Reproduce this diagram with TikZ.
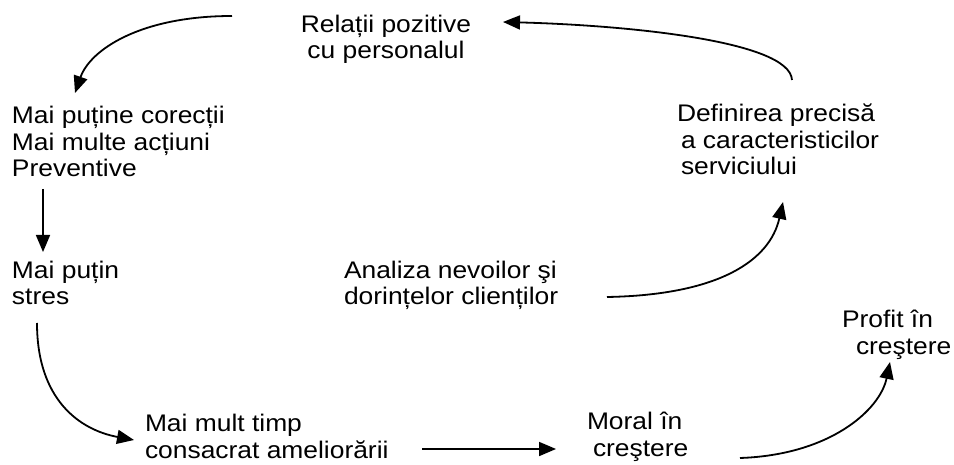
\documentclass[tikz,border=0pt]{standalone}
\usepackage{fontspec}
\setmainfont{Liberation Sans}[FakeStretch=1.1]
\usetikzlibrary{arrows.meta}
\begin{document}
\begin{tikzpicture}[x=1pt,y=-1pt,
  % labels are placed by the baseline of their last line
  lbl/.style={inner sep=0pt, outer sep=0pt, align=left, anchor=base west,
    font=\fontsize{24}{26.5}\selectfont},
  lblc/.style={lbl, align=center, anchor=base},
  flow/.style={line width=1.8pt, -{Triangle[length=17pt,width=14pt]}}]
\useasboundingbox (0,0) rectangle (954,465);

% statements around the cycle
\node[lblc] (rel) at (386,59) {Relații pozitive\\cu personalul};
\node[lbl] (corr) at (12,177) {Mai puține corecții\\Mai multe acțiuni\\Preventive};
\node[lbl] (stres) at (12,305) {Mai puțin\\stres};
\node[lbl] (timp) at (145,458) {Mai mult timp\\consacrat ameliorării};
\node[lbl] (moral) at (587,456) {Moral în\\\hspace*{6pt}creştere};
\node[lbl] (profit) at (842,354) {Profit în\\\hspace*{14pt}creştere};
\node[lbl] (analiza) at (344,305) {Analiza nevoilor şi\\dorințelor clienților};
\node[lbl] (def) at (677,175) {Definirea precisă\\\hspace*{4pt}a caracteristicilor\\\hspace*{4pt}serviciului};

% connector end points
\coordinate (r1) at (232,16);
\coordinate (c1) at (75,93);
\coordinate (c2) at (43,189);
\coordinate (s1) at (43,252);
\coordinate (s2) at (37,323);
\coordinate (t1) at (134,440);
\coordinate (t2) at (422,449);
\coordinate (m1) at (556,449);
\coordinate (m2) at (740,458);
\coordinate (p1) at (890,362);
\coordinate (a1) at (607,297);
\coordinate (d1) at (783,202);
\coordinate (d2) at (792,80);
\coordinate (r2) at (503,22);

\draw[flow] (r1) .. controls (140,16) and (90,50) .. (c1);
\draw[flow] (c2) -- (s1);
\draw[flow] (s2) .. controls (37,400) and (80,430) .. (t1);
\draw[flow] (t2) -- (m1);
\draw[flow] (m2) .. controls (830,455) and (880,410) .. (p1);
\draw[flow] (a1) .. controls (720,295) and (770,260) .. (d1);
\draw[flow] (d2) .. controls (790,40) and (620,25) .. (r2);
\end{tikzpicture}
\end{document}
